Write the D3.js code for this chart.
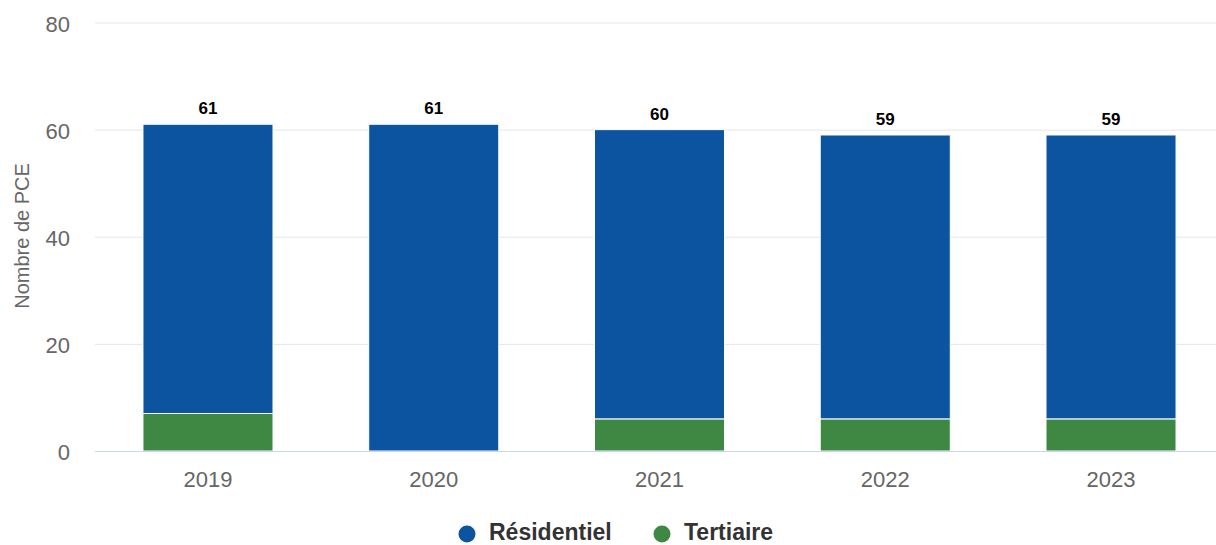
<!DOCTYPE html>
<html><head><meta charset="utf-8">
<script src="https://cdn.jsdelivr.net/npm/d3@7"></script>
<style>body{margin:0;background:#fff}svg{display:block;font-family:"Liberation Sans",Arial,sans-serif}</style>
</head><body><svg id="c" width="1216" height="545"></svg>
<script>
const years = ["2019","2020","2021","2022","2023"];
const residentiel = [54, 61, 54, 53, 53];
const tertiaire = [7, 0, 6, 6, 6];
const yTicks = [0, 20, 40, 60, 80];
const seriesNames = ["Résidentiel", "Tertiaire"];
const colors = ["#0c54a0", "#3f8843"];

const svg = d3.select("#c");
const x = d3.scaleBand().domain(years).range([95.1, 1223.9]).paddingInner(0.424).paddingOuter(0.212);
const y = d3.scaleLinear().domain([0, 80]).range([451, 22.5]);

// gridlines
svg.append("g").selectAll("line").data(yTicks.filter(d=>d>0)).join("line")
  .attr("x1", 95).attr("x2", 1216).attr("y1", d=>y(d)+0.5).attr("y2", d=>y(d)+0.5)
  .attr("stroke", "#e6e6e6").attr("stroke-width", 1);

// y tick labels
svg.append("g").selectAll("text").data(yTicks).join("text")
  .attr("x", 70).attr("y", d=>y(d)+9).attr("text-anchor","end")
  .attr("font-size", 22).attr("fill", "#666").text(d=>d);

// axis title
svg.append("text").attr("transform","translate(29,236) rotate(-90)")
  .attr("text-anchor","middle").attr("font-size",20).attr("fill","#666").text("Nombre de PCE");

// stacked bars
const rows = years.map((yr,i)=>({year:yr, "Résidentiel":residentiel[i], "Tertiaire":tertiaire[i]}));
const stack = d3.stack().keys(["Tertiaire","Résidentiel"])(rows);
const colorOf = {"Résidentiel":colors[0], "Tertiaire":colors[1]};
stack.forEach(layer=>{
  svg.append("g").selectAll("rect").data(layer.filter(d=>d[1]-d[0]>0)).join("rect")
    .attr("x", d=>x(d.data.year)).attr("width", x.bandwidth())
    .attr("y", d=>y(d[1])).attr("height", d=>y(d[0])-y(d[1]))
    .attr("fill", colorOf[layer.key]).attr("stroke","#fff").attr("stroke-width",1);
});

// baseline
svg.append("line").attr("x1",95).attr("x2",1216).attr("y1",y(0)+0.5).attr("y2",y(0)+0.5)
  .attr("stroke","#ccd6eb").attr("stroke-width",1);

// total labels
svg.append("g").selectAll("text").data(rows).join("text")
  .attr("x", d=>x(d.year)+x.bandwidth()/2)
  .attr("y", d=>y(d["Résidentiel"]+d["Tertiaire"])-10)
  .attr("text-anchor","middle").attr("font-size",17).attr("font-weight","bold").attr("fill","#000")
  .text(d=>d["Résidentiel"]+d["Tertiaire"]);

// x labels
svg.append("g").selectAll("text").data(years).join("text")
  .attr("x", d=>x(d)+x.bandwidth()/2).attr("y", 487)
  .attr("text-anchor","middle").attr("font-size",22).attr("fill","#666").text(d=>d);

// legend
const legX = [467, 662];
const lg = svg.append("g").selectAll("g").data(seriesNames).join("g");
lg.append("circle").attr("cx",(d,i)=>legX[i]).attr("cy",534).attr("r",8.5).attr("fill",(d,i)=>colors[i]);
lg.append("text").attr("x",(d,i)=>legX[i]+22).attr("y",540).attr("font-size",23).attr("font-weight","bold")
  .attr("fill","#333").text(d=>d);
</script></body></html>
